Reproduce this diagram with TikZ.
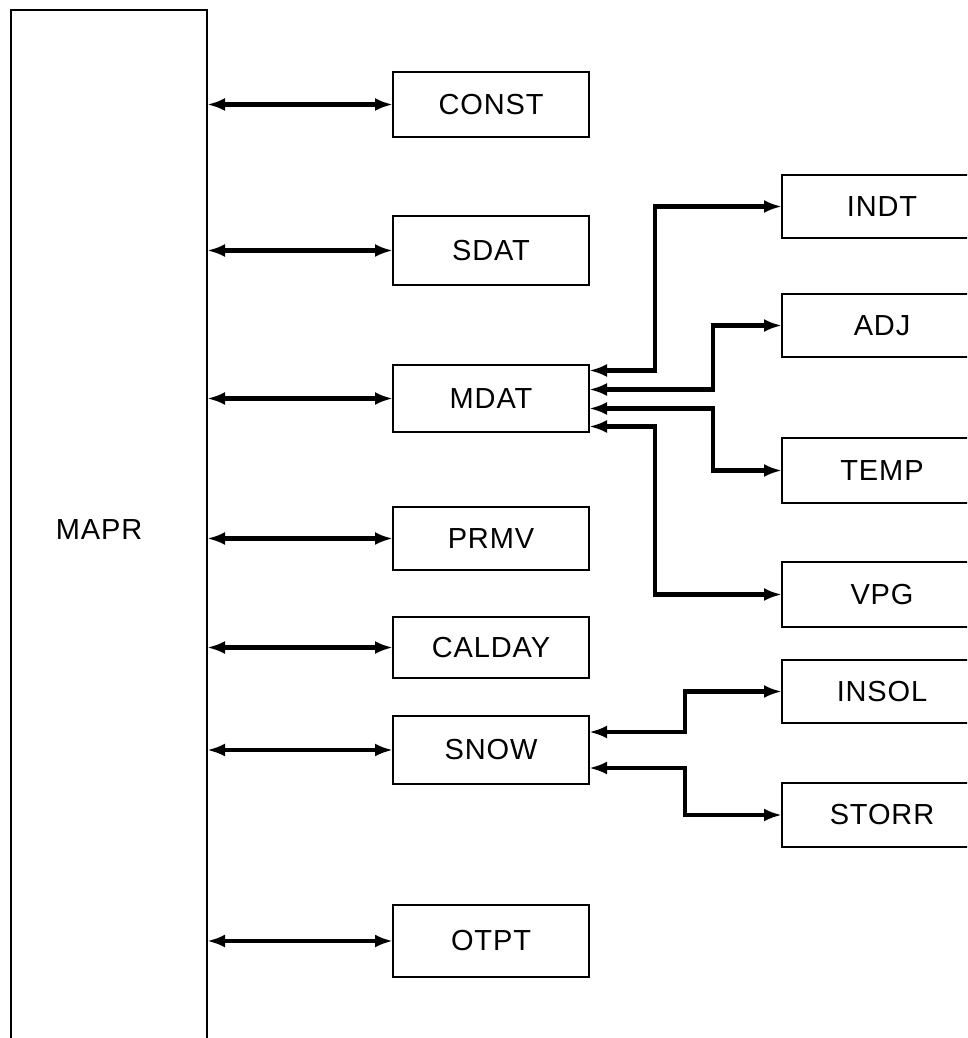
\documentclass[tikz,border=0pt]{standalone}
\usepackage{fontspec}
\setmainfont[LetterSpace=3]{Liberation Sans}
\usetikzlibrary{arrows.meta}
\begin{document}
\begin{tikzpicture}[x=1pt,y=-1pt,
  lbl/.style={font=\fontsize{29}{34}\selectfont},
  box/.style={draw,line width=2.2pt,outer sep=0pt,minimum width=196pt,minimum height=65pt,inner sep=0pt,lbl},
  rbox/.style={box,minimum width=200pt},
  conn/.style={line width=4.5pt,{Latex[length=18pt,width=13pt]}-{Latex[length=18pt,width=13pt]}},
]
\useasboundingbox (0,0) rectangle (967,1038);
\clip (0,0) rectangle (967,1038);

% main program box (open at the bottom of the page)
\node[draw,line width=2.2pt,outer sep=0pt,minimum width=196pt,minimum height=1050pt,inner sep=0pt,anchor=north west] (mapr) at (11,10) {};
\node[lbl] (maprlabel) at (99,530) {MAPR};

% middle column
\node[box,minimum height=65pt] (const)  at (491,104.5) {CONST};
\node[box,minimum height=69pt] (sdat)   at (491,250.5) {SDAT};
\node[box,minimum height=67pt] (mdat)   at (491,398.5) {MDAT};
\node[box,minimum height=63pt] (prmv)   at (491,538.5) {PRMV};
\node[box,minimum height=61pt] (calday) at (491,647.5) {CALDAY};
\node[box,minimum height=68pt] (snow)   at (491,750)   {SNOW};
\node[box,minimum height=72pt] (otpt)   at (491,941)   {OTPT};

% right column
\node[rbox,minimum height=63pt] (indt)  at (882,206.5) {INDT};
\node[rbox,minimum height=63pt] (adj)   at (882,325.5) {ADJ};
\node[rbox,minimum height=65pt] (temp)  at (882,470.5) {TEMP};
\node[rbox,minimum height=65pt] (vpg)   at (882,594.5) {VPG};
\node[rbox,minimum height=63pt] (insol) at (882,691.5) {INSOL};
\node[rbox,minimum height=64pt] (storr) at (882,815)   {STORR};

% MAPR connectors
\foreach \b in {const,sdat,mdat,prmv,calday,snow,otpt}
  \draw[conn] (mapr.east |- \b.west) -- (\b.west);

% MDAT connectors
\draw[conn] ([yshift=28pt]mdat.east)  -- ++(66,0)  |- (indt.west);
\draw[conn] ([yshift=9pt]mdat.east)   -- ++(124,0) |- (adj.west);
\draw[conn] ([yshift=-10pt]mdat.east) -- ++(124,0) |- (temp.west);
\draw[conn] ([yshift=-28pt]mdat.east) -- ++(66,0)  |- (vpg.west);

% SNOW connectors
\draw[conn] ([yshift=18pt]snow.east)  -- ++(96,0) |- (insol.west);
\draw[conn] ([yshift=-18pt]snow.east) -- ++(96,0) |- (storr.west);
\end{tikzpicture}
\end{document}
